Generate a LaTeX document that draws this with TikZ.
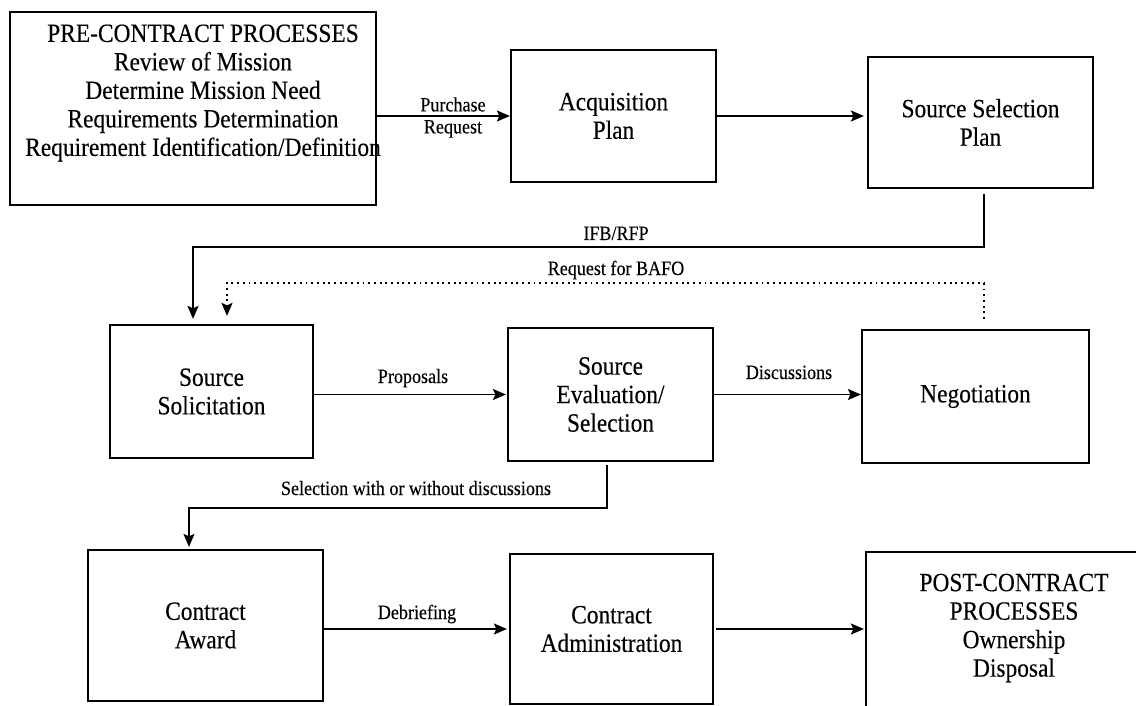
\documentclass[tikz,border=0pt]{standalone}
\usepackage{fontspec}
\setmainfont{Liberation Serif}[FakeStretch=0.89,FakeBold=0.2]
\usetikzlibrary{arrows.meta}
\newcommand{\boxfont}{\fontsize{26.3}{28.5}\selectfont}
\newcommand{\tagfont}{\fontsize{20.3}{22}\selectfont}
\tikzset{
  stage/.style={draw, line width=2.2pt, inner sep=0pt, align=center, font=\boxfont},
  stagetext/.style={inner sep=0pt, align=center, font=\boxfont},
  flow/.style={line width=1.9pt, -{Stealth[length=13pt,width=11pt,inset=2.5pt]}},
  dotflow/.style={flow, dash pattern=on 1.9pt off 3.8pt},
  tag/.style={font=\tagfont, inner sep=0pt, align=center},
}
\begin{document}
\begin{tikzpicture}[x=1pt,y=-1pt]
\useasboundingbox (0,0) rectangle (1136,706);
\fill[white] (0,0) rectangle (1136,706);

% process stages
\node[stage, minimum width=366pt, minimum height=193pt] (pre) at (193,108.5) {};
\node[stagetext] (pretext) at (203,93) {PRE-CONTRACT PROCESSES\\Review of Mission\\Determine Mission Need\\Requirements Determination\\Requirement Identification/Definition};
\node[stage, minimum width=205pt, minimum height=132pt] (acq) at (613.5,116) {Acquisition\\Plan};
\node[stage, minimum width=225pt, minimum height=131pt] (ssp) at (980.5,122.5) {Source Selection\\Plan};
\node[stage, minimum width=203pt, minimum height=133pt] (sol) at (211.5,391.5) {Source\\Solicitation};
\node[stage, minimum width=205pt, minimum height=133pt] (eval) at (610.5,394.5) {Source\\Evaluation/\\Selection};
\node[stage, minimum width=227pt, minimum height=133pt] (neg) at (975.5,396.5) {Negotiation};
\node[stage, minimum width=235pt, minimum height=151pt] (award) at (205.5,625.5) {Contract\\Award};
\node[stage, minimum width=203pt, minimum height=150pt] (admin) at (611.5,629) {Contract\\Administration};
\begin{scope}
  \clip (0,0) rectangle (1136,706);
  \node[stage, minimum width=300pt, minimum height=160pt] (post) at (1016,632) {};
\end{scope}
\node[stagetext] (posttext) at (1014,628) {POST-CONTRACT\\PROCESSES\\Ownership\\Disposal};

% turning points of the routed connectors
\coordinate (ifbR) at (984,247);
\coordinate (ifbL) at (193,247);
\coordinate (bafoR) at (984,283);
\coordinate (bafoL) at (227,283);
\coordinate (selR) at (607,508);
\coordinate (selL) at (189,508);

% straight flows
\draw[flow] (pre.east |- acq.west) -- (acq.west);
\draw[flow, shorten >=3pt] (acq.east) -- (acq.east -| ssp.west);
\draw[flow, shorten >=1pt] (sol.east |- eval.west) -- (eval.west);
\draw[flow] (eval.east) -- (eval.east -| neg.west);
\draw[flow, shorten >=2pt] (award.east |- admin.west) -- (admin.west);
\draw[flow, shorten >=1pt] ([xshift=2pt]admin.east) -- (admin.east -| post.west);

% routed flows
\draw[flow] ([yshift=-5pt]ssp.south -| ifbR) -- (ifbR) -- (ifbL) -- ([yshift=5pt]sol.north -| ifbL);
\draw[dotflow] ([yshift=10pt]neg.north -| bafoR) -- (bafoR) -- (bafoL) -- ([yshift=8pt]sol.north -| bafoL);
\draw[flow] ([yshift=-3pt]eval.south -| selR) -- (selR) -- (selL) -- ([yshift=2pt]award.north -| selL);

% connector labels
\node[tag] (lpr) at (453,117.5) {Purchase\\Request};
\node[tag, anchor=base] (lifb) at (616,240) {IFB/RFP};
\node[tag, anchor=base] (lbafo) at (616,275) {Request for BAFO};
\node[tag, anchor=base] (lprop) at (413,383) {Proposals};
\node[tag, anchor=base] (ldisc) at (789,379) {Discussions};
\node[tag, anchor=base] (lsel) at (416,495) {Selection with or without discussions};
\node[tag, anchor=base] (ldeb) at (417,619) {Debriefing};
\end{tikzpicture}
\end{document}
